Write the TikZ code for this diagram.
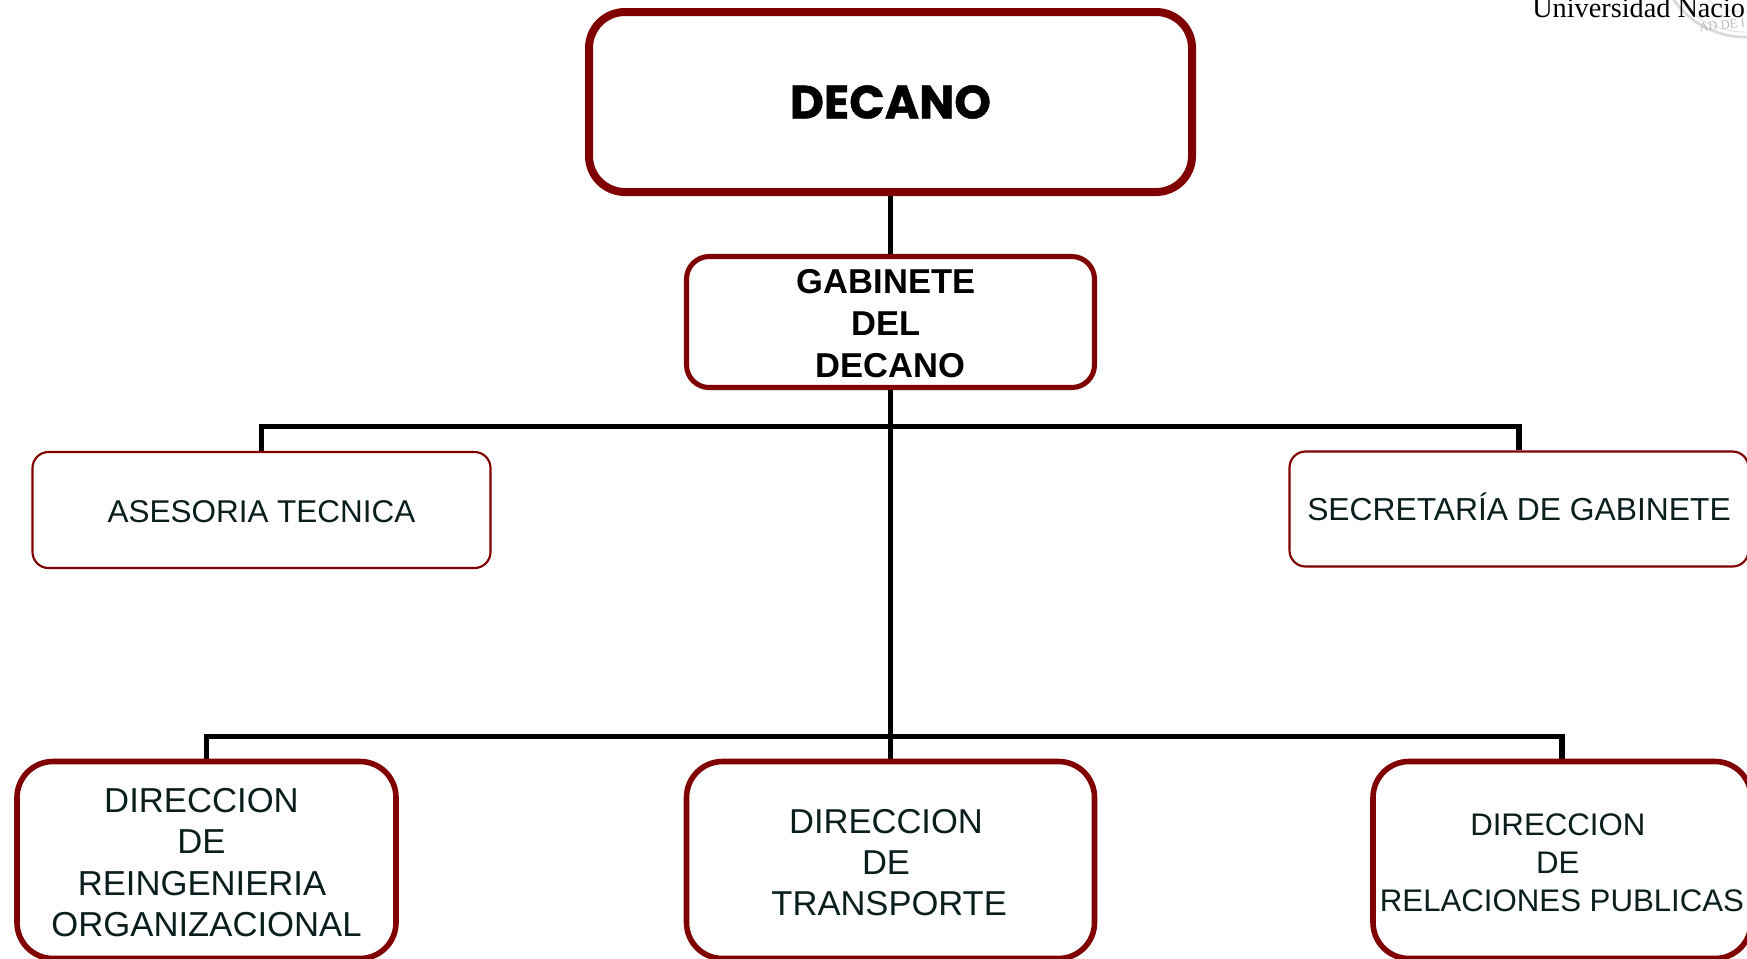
\documentclass[tikz,border=0pt]{standalone}
\usepackage{fontspec}
\setmainfont{Liberation Sans}
\newfontfamily\heavyf[BoldFeatures={FakeBold=1}]{Poppins}
\newfontfamily\serf{Liberation Serif}
\usetikzlibrary{backgrounds}
\definecolor{maroon}{HTML}{800000}
\definecolor{inktext}{HTML}{0A1E1E}
\newcommand{\padr}[1]{\rule{#1}{0pt}}
\tikzset{
  x=0.75pt,y=-0.75pt,
  orgbox/.style={draw=maroon,fill=white,rounded corners=#1,inner sep=0pt,align=center,text=inktext},
  thickbox/.style={orgbox=27pt,line width=6pt},
  midbox/.style={orgbox=17pt,line width=3.8pt},
  lowbox/.style={orgbox=27pt,line width=4.2pt},
  thinbox/.style={orgbox=12pt,line width=1.6pt},
  link/.style={draw=black,line width=4pt,line cap=butt,line join=miter},
  size/.style 2 args={minimum width=#1*0.75pt,minimum height=#2*0.75pt}
}
\begin{document}
\begin{tikzpicture}
\useasboundingbox (0,0) rectangle (1747,958);
% seal fragment
\draw[gray!30,line width=2pt] (1745,-50) circle (87);
\draw[gray!25,line width=0.7pt] (1745,-50) circle (82);
\draw[gray!20,line width=0.7pt] (1745,-50) circle (62);
\node[text=gray!55,font=\serf\fontsize{9.5}{9.5}\selectfont,rotate=6] (sealtext) at (1722,25) {AD DE I};
\node[anchor=base west,inner sep=0pt,font=\serf\fontsize{21.2}{21.2}\selectfont,text=black] (univ) at (1532,17) {Universidad Nacio};
% boxes
\node[thickbox,size={603}{180},font=\heavyf\bfseries\fontsize{35}{35}\selectfont,text=black] (decano) at (890.5,102) {DECANO};
\node[midbox,size={408}{131},font=\bfseries\fontsize{25.9}{31.3}\selectfont,text=black] (gabinete) at (890.5,322) {\rule{0pt}{20.4pt}GABINETE\padr{6.75pt}\\DEL\padr{6.75pt}\\DECANO};
\node[thinbox,size={458}{116},font=\fontsize{23.6}{28}\selectfont] (asesoria) at (261.5,510) {\rule{0pt}{19pt}ASESORIA TECNICA};
\node[thinbox,size={459}{115},font=\fontsize{23.85}{28}\selectfont] (secretaria) at (1519,509) {\rule[-3.3pt]{0pt}{1pt}SECRETARÍA DE GABINETE};
\node[lowbox,size={379}{197},font=\fontsize{26}{31.1}\selectfont] (reing) at (206.5,860) {\rule{0pt}{22pt}DIRECCION\padr{7.5pt}\\DE\padr{7.5pt}\\REINGENIERIA\padr{6.75pt}\\ORGANIZACIONAL};
\node[lowbox,size={408}{197},font=\fontsize{25.9}{31.1}\selectfont] (transporte) at (890.5,860) {\rule{0pt}{22pt}DIRECCION\padr{6.75pt}\\DE\padr{6.75pt}\\TRANSPORTE\padr{2pt}};
\node[lowbox,size={378}{197},font=\fontsize{23.4}{28.5}\selectfont] (relaciones) at (1562,860) {\rule{0pt}{20.3pt}DIRECCION\padr{6.3pt}\\DE\padr{6.3pt}\\RELACIONES PUBLICAS};
% bus coordinates
\coordinate (busA) at (gabinete.south |- 0,426.5);
\coordinate (busB) at (transporte.north |- 0,736.5);
% connectors
\begin{scope}[on background layer]
\draw[link] (decano.south) -- (gabinete.north);
\draw[link] (gabinete.south) -- (transporte.north);
\draw[link] (asesoria.north) -- (asesoria.north |- busA) -- (secretaria.north |- busA) -- (secretaria.north);
\draw[link] (reing.north) -- (reing.north |- busB) -- (relaciones.north |- busB) -- (relaciones.north);
\end{scope}
\end{tikzpicture}
\end{document}
